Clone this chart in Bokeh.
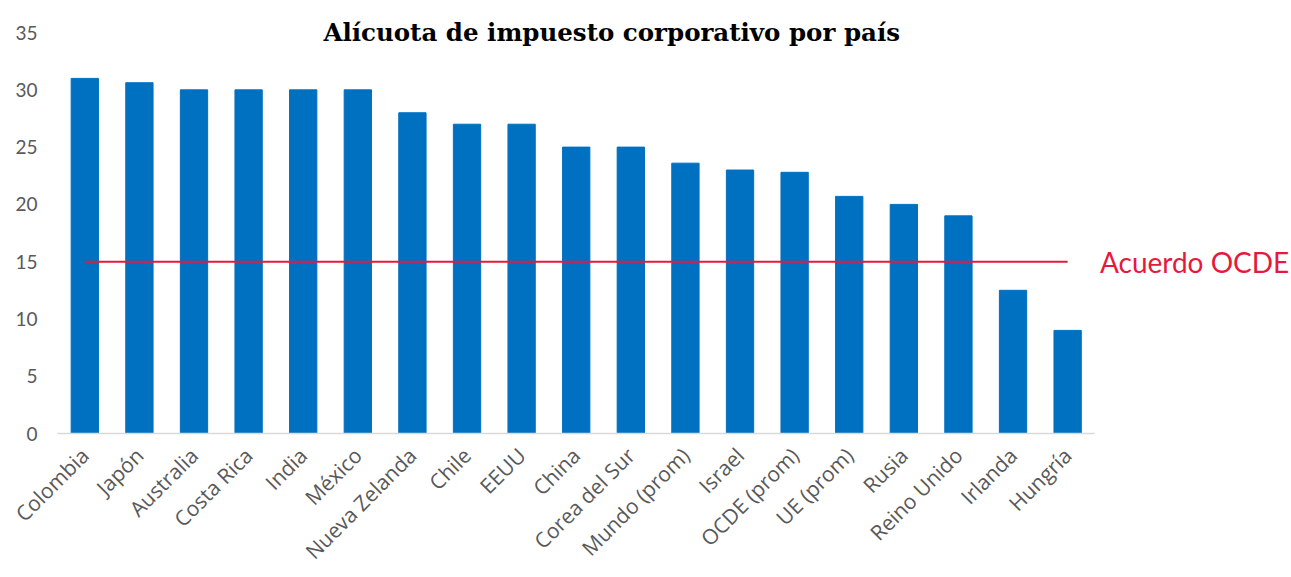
from bokeh.plotting import figure
from bokeh.models import ColumnDataSource, Label, FixedTicker, Range1d
from bokeh.embed import file_html
from bokeh.resources import INLINE
import math

paises = ["Colombia", "Japón", "Australia", "Costa Rica", "India", "México",
          "Nueva Zelanda", "Chile", "EEUU", "China", "Corea del Sur",
          "Mundo (prom)", "Israel", "OCDE (prom)", "UE (prom)", "Rusia",
          "Reino Unido", "Irlanda", "Hungría"]
alicuota = [31, 30.62, 30, 30, 30, 30, 28, 27, 27, 25, 25, 23.6, 23, 22.8,
            20.7, 20, 19, 12.5, 9]
acuerdo_ocde = 15
y_ticks = [0, 5, 10, 15, 20, 25, 30, 35]
titulo = "Alícuota de impuesto corporativo por país"
etiqueta_linea = "Acuerdo OCDE"

n = len(paises)
pos = list(range(n))
src = ColumnDataSource(dict(x=pos, valor=alicuota))

# layout: extra room on the right (for the line label) and on top (title)
x_extra = 3.6
y_top = 37.8

p = figure(x_range=Range1d(-0.5, n - 0.5 + x_extra), y_range=Range1d(0, y_top),
           width=1291, height=577,
           output_backend="svg", toolbar_location=None,
           min_border_left=57, min_border_right=0, min_border_top=0,
           min_border_bottom=136)
p.outline_line_color = None
p.background_fill_color = "white"
p.border_fill_color = "white"

p.vbar(x="x", top="valor", width=0.5, source=src, color="#0070C0")

p.line(x=[pos[0], pos[-1]], y=[acuerdo_ocde, acuerdo_ocde],
       line_color="#E6193C", line_width=2)

p.add_layout(Label(x=n - 0.5, y=acuerdo_ocde, x_offset=5,
                   text=etiqueta_linea, text_color="#E6193C",
                   text_font="Lato", text_font_size="28px",
                   text_baseline="middle", text_align="left"))

p.add_layout(Label(x=(n - 1) / 2 + 0.65, y=y_ticks[-1],
                   text=titulo, text_font="DejaVu Serif",
                   text_font_style="bold", text_font_size="24.5px",
                   text_color="#000000", text_align="center",
                   text_baseline="middle"))

p.xgrid.grid_line_color = None
p.ygrid.grid_line_color = None

p.xaxis.ticker = FixedTicker(ticks=pos)
p.xaxis.major_label_overrides = {i: name for i, name in zip(pos, paises)}
p.xaxis.bounds = (-0.5, n - 0.5)
p.xaxis.axis_line_color = "#D9D9D9"
p.xaxis.axis_line_width = 1.5
p.xaxis.major_tick_line_color = None
p.xaxis.minor_tick_line_color = None
p.xaxis.major_label_orientation = math.pi / 4
p.xaxis.major_label_text_font = "Open Sans"
p.xaxis.major_label_text_font_size = "21px"
p.xaxis.major_label_text_color = "#595959"
p.xaxis.major_label_standoff = 12

p.yaxis.ticker = FixedTicker(ticks=y_ticks)
p.yaxis.axis_line_color = None
p.yaxis.major_tick_line_color = None
p.yaxis.minor_tick_line_color = None
p.yaxis.major_label_text_font = "Lato"
p.yaxis.major_label_text_font_size = "19px"
p.yaxis.major_label_text_color = "#595959"
p.yaxis.major_label_standoff = 14

open("out.html", "w").write(file_html(p, INLINE))
